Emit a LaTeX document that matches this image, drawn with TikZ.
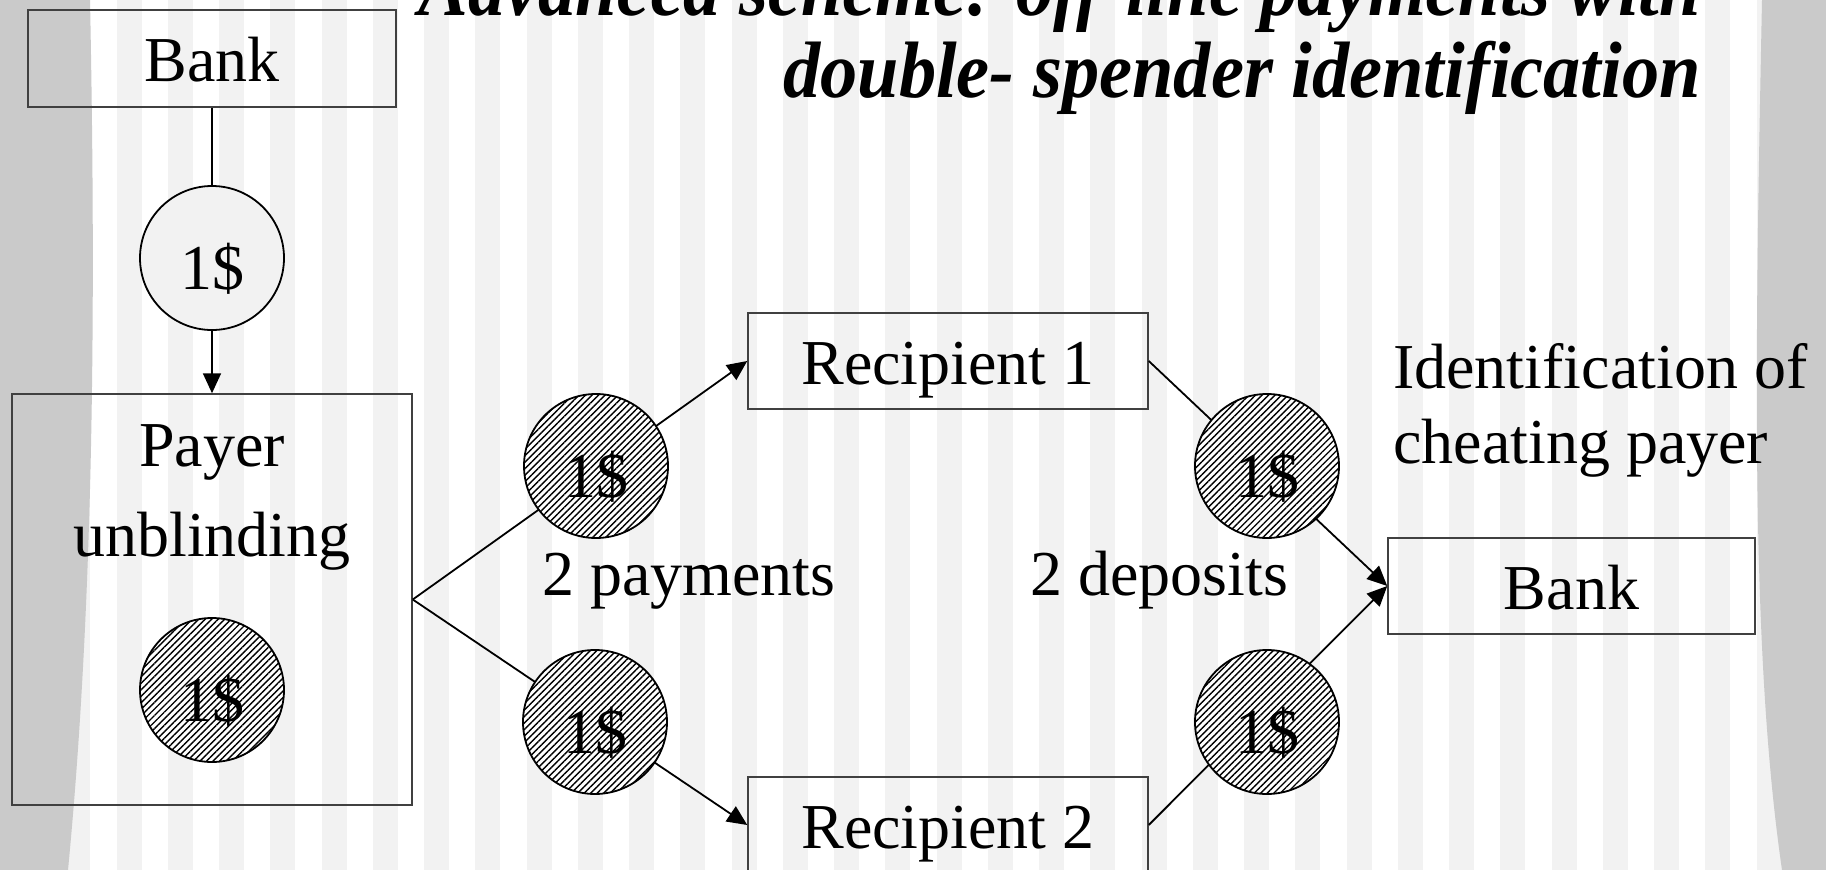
\documentclass[tikz,border=0pt]{standalone}
\usepackage{fontspec}
\setmainfont{Liberation Serif}
\usetikzlibrary{arrows.meta,patterns.meta}
\definecolor{stripegray}{RGB}{242,242,242}
\definecolor{curtaingray}{RGB}{202,202,202}
\definecolor{boxline}{RGB}{64,64,64}

\begin{document}
\begin{tikzpicture}[x=1pt,y=-1pt,
  lbl/.style={font=\fontsize{64}{75}\selectfont, inner sep=0pt},
  boxnode/.style={draw=boxline, line width=1.5pt, minimum width=#1, minimum height=96pt,
    inner sep=0pt, text height=46pt, text depth=0pt, font=\fontsize{64}{75}\selectfont},
  coin/.style={circle, draw=black, line width=1.8pt, minimum size=144pt, inner sep=0pt,
    text height=62pt, text depth=0pt, font=\fontsize{64}{75}\selectfont},
  plaincoin/.style={coin, fill=stripegray},
  hatchcoin/.style={coin, preaction={fill=white},
    pattern={Lines[angle=45,distance=4.6pt,line width=1.4pt]}, pattern color=black},
  conn/.style={draw=black, line width=1.8pt},
  arr/.style={conn, -{Triangle[length=20pt,width=18pt]}},
  title/.style={font=\fontsize{80}{82}\selectfont\bfseries\itshape, inner sep=0pt, anchor=base east}
]
\useasboundingbox (0,0) rectangle (1826,870);
\clip (0,0) rectangle (1826,870);

% striped backdrop
\fill[white] (0,0) rectangle (1826,870);
\foreach \k in {-3,...,34}
  \fill[stripegray] ({116.7+51.25*\k},0) rectangle ++(25,870);

% side curtains
\fill[curtaingray] (0,0) -- (90,0) .. controls (96,300) and (94,600) .. (68,870) -- (0,870) -- cycle;
\fill[curtaingray] (1762,0) .. controls (1755,350) and (1750,650) .. (1782,870) -- (1826,870) -- (1826,0) -- cycle;

% title
\node[title] (title1) at (1701,15) {\scalebox{0.93}[1]{Advanced scheme: off-line payments with}};
\node[title] (title2) at (1701,97) {\scalebox{0.93}[1]{double- spender identification}};

% boxes
\node[boxnode=368pt, minimum height=97pt] (bank1) at (212,58.5) {Bank};
\node[draw=boxline, line width=1.5pt, minimum width=400pt, minimum height=411pt, inner sep=0pt] (payer) at (212,599.5) {};
\node[boxnode=400pt] (rec1) at (948,361) {Recipient 1};
\node[boxnode=400pt] (rec2) at (948,825) {Recipient 2};
\node[boxnode=367pt] (bank2) at (1571.5,586) {Bank};

% withdrawal
\node[plaincoin] (coin0) at (212,258) {1\$};
\draw[conn] (bank1.south) -- (coin0.north);
\draw[arr] (coin0.south) -- (payer.north);

\node[lbl, anchor=base] (payerlbl) at (212,466) {Payer};
\node[lbl, anchor=base] (unblindlbl) at (212,556) {unblinding};
\node[hatchcoin] (coinp) at (212,690) {1\$};

% payments and deposits
\draw[arr] (payer.east) -- (rec1.west);
\draw[arr] (payer.east) -- (rec2.west);
\draw[arr] (rec1.east) -- (bank2.west);
\draw[arr] (rec2.east) -- (bank2.west);

\node[hatchcoin] (coinm1) at (596,466) {1\$};
\node[hatchcoin] (coinm2) at (595,722) {1\$};
\node[hatchcoin] (coinr1) at (1267,466) {1\$};
\node[hatchcoin] (coinr2) at (1267,722) {1\$};

\node[lbl, anchor=base] (paylbl) at (689,595) {2 payments};
\node[lbl, anchor=base] (deplbl) at (1159,595) {2 deposits};
\node[lbl, anchor=base west] (idlbl1) at (1393,388) {Identification of};
\node[lbl, anchor=base west] (idlbl2) at (1393,463) {cheating payer};
\end{tikzpicture}
\end{document}
